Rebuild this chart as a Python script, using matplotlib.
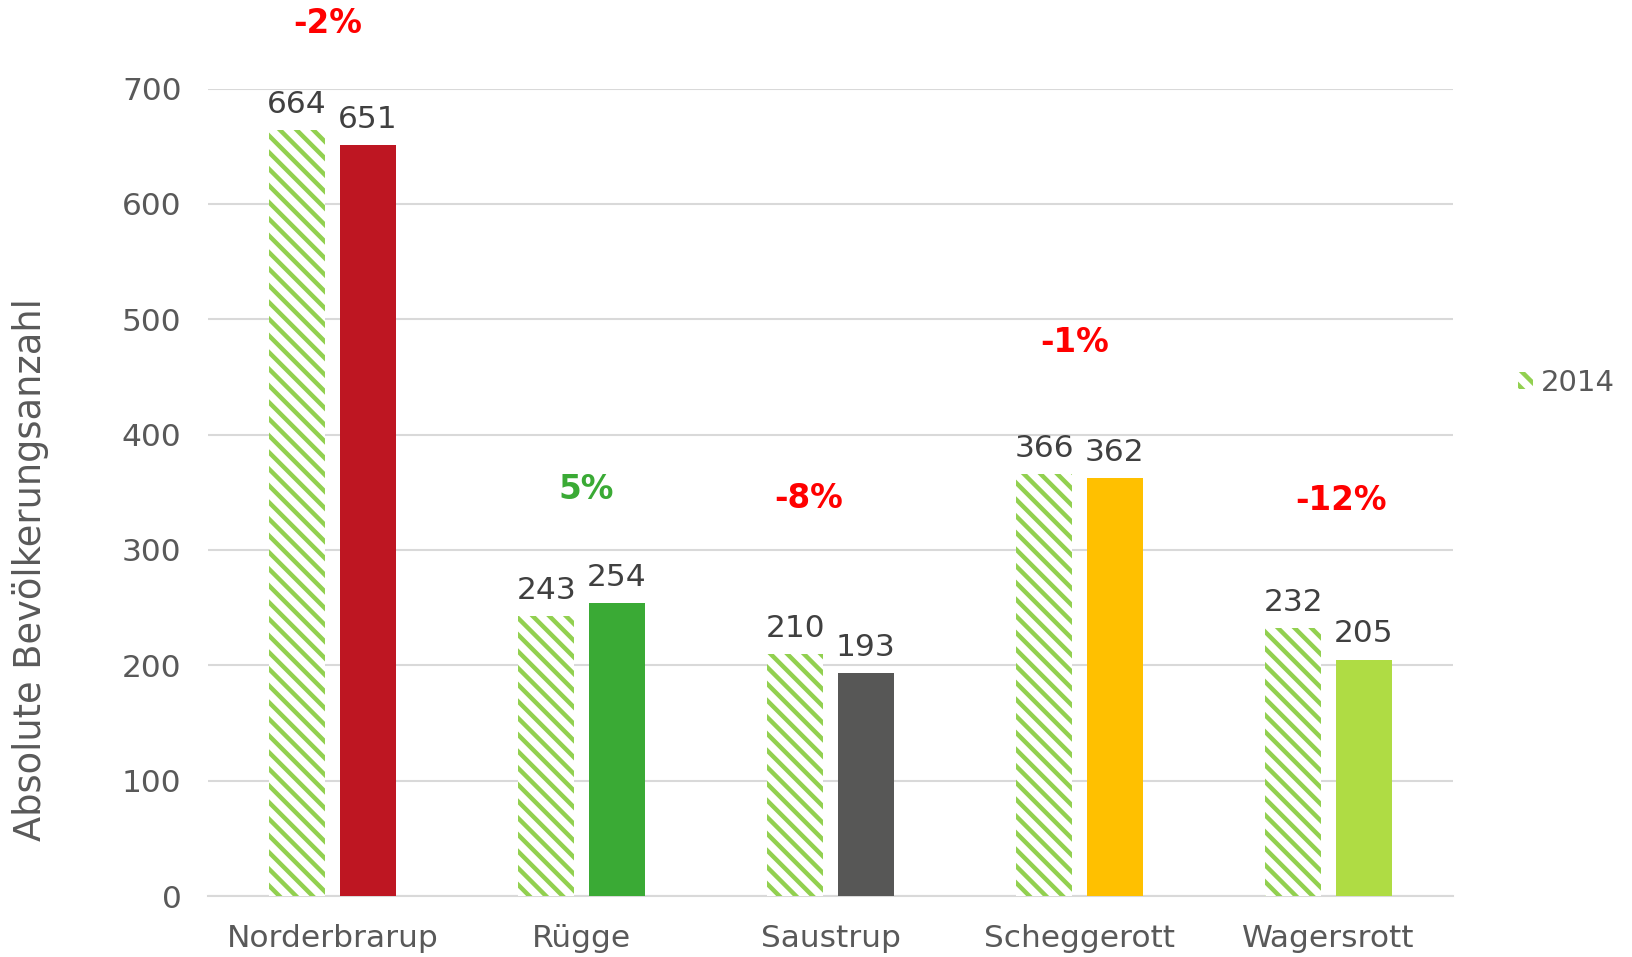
import matplotlib
matplotlib.use("Agg")
import matplotlib.pyplot as plt
import numpy as np

categories = ["Norderbrarup", "Rügge", "Saustrup", "Scheggerott", "Wagersrott"]
values_2014 = [664, 243, 210, 366, 232]
values_new = [651, 254, 193, 362, 205]
colors_new = ["#BE1622", "#3AAA35", "#575756", "#FFC000", "#AFDC44"]
pct_labels = ["-2%", "5%", "-8%", "-1%", "-12%"]
pct_colors = ["#FF0000", "#3AAA35", "#FF0000", "#FF0000", "#FF0000"]
pct_y = [756, 352, 345, 480, 343]
pct_dx = [-0.02, 0.02, -0.09, -0.02, 0.05]
yticks = [0, 100, 200, 300, 400, 500, 600, 700]

plt.rcParams['hatch.linewidth'] = 3.2
fig = plt.figure(figsize=(16.33, 9.57), dpi=100)
ax = fig.add_axes([0.1274, 0.0637, 0.7624, 0.8438])

x = np.arange(len(categories))
w = 0.225
off = 0.142
b1 = ax.bar(x - off, values_2014, w, facecolor="white", edgecolor="#92D050",
            hatch="\\\\", linewidth=0, label="2014", zorder=3)
b2 = ax.bar(x + off, values_new, w, color=colors_new, linewidth=0, zorder=3)

for xi, v in zip(x - off, values_2014):
    ax.annotate(str(v), (xi, v), xytext=(0, 8), textcoords="offset points",
                ha="center", va="bottom", fontsize=22.5, color="#404040")
for xi, v in zip(x + off, values_new):
    ax.annotate(str(v), (xi, v), xytext=(0, 8), textcoords="offset points",
                ha="center", va="bottom", fontsize=22.5, color="#404040")

for xi, t, c, y, dx in zip(x, pct_labels, pct_colors, pct_y, pct_dx):
    ax.text(xi + dx, y, t, ha="center", va="center", fontsize=23.5,
            fontweight="bold", color=c, clip_on=False)

ax.set_xlim(-0.5, len(categories) - 0.5)
ax.set_ylim(0, 700)
ax.set_yticks(yticks)
ax.set_xticks(x)
ax.set_xticklabels(categories)
ax.tick_params(axis="both", length=0, labelsize=22.5, labelcolor="#595959")
ax.tick_params(axis="y", pad=19)
ax.tick_params(axis="x", pad=20)
ax.grid(axis="y", color="#D9D9D9", linewidth=1.5, zorder=0)
for s in ["top", "right", "left"]:
    ax.spines[s].set_visible(False)
ax.spines["bottom"].set_color("#D9D9D9")
ax.spines["bottom"].set_linewidth(1.5)
ax.set_axisbelow(True)

fig.text(0.0185, 0.405, "Absolute Bevölkerungsanzahl", rotation=90, ha="center",
         va="center", fontsize=26.5, color="#595959")

leg = fig.legend(handles=[b1], labels=["2014"], loc="center left",
                 bbox_to_anchor=(0.9135, 0.6), frameon=False, fontsize=21,
                 handlelength=0.5, handleheight=0.5, handletextpad=0.3)
for t in leg.get_texts():
    t.set_color("#595959")

fig.savefig("out.png", dpi=100)
